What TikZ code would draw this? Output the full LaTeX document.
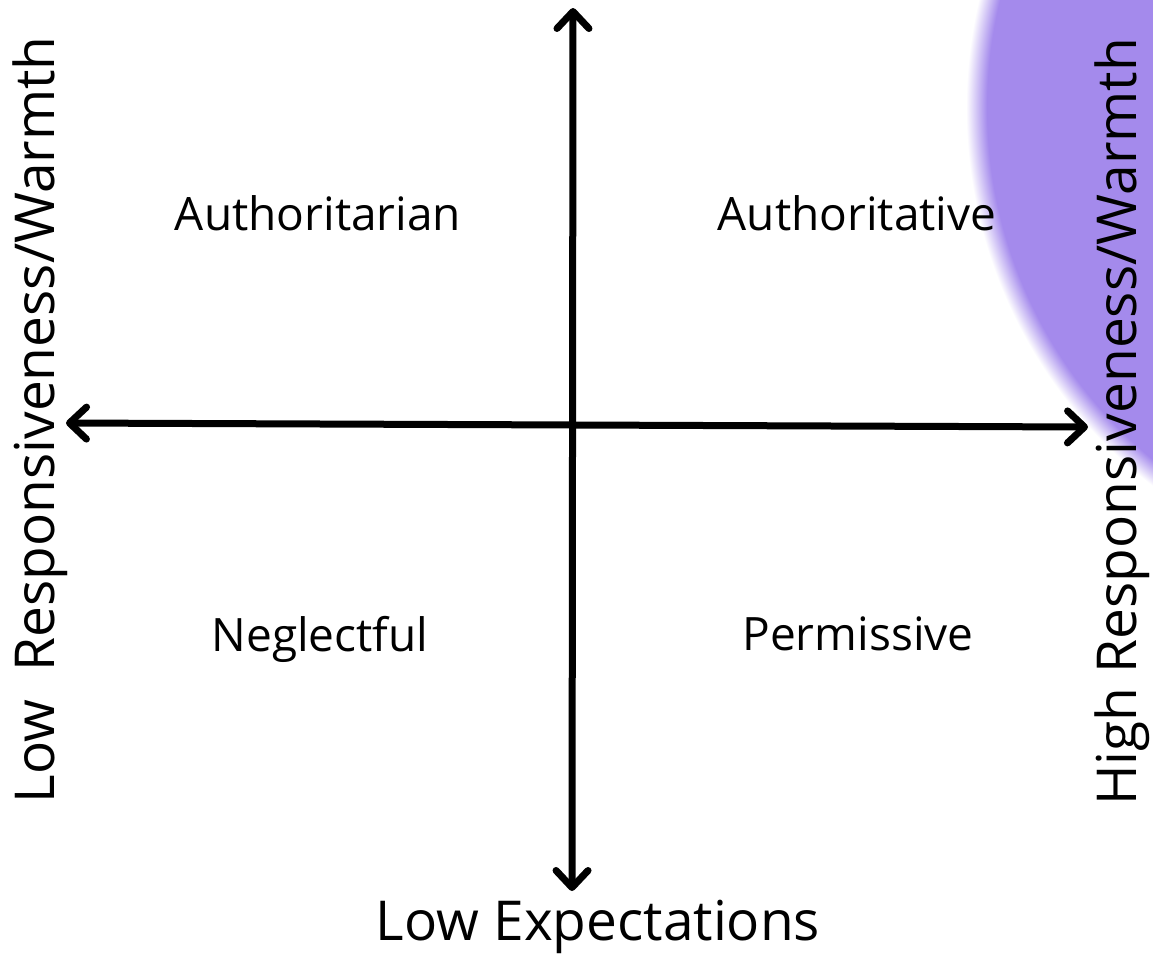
\documentclass[tikz,border=0pt]{standalone}
\usepackage{fontspec}
\setmainfont{Open Sans}
\usetikzlibrary{arrows.meta}
\definecolor{blobpurple}{RGB}{164,138,236}
\pgfdeclareradialshading{blobshade}{\pgfpoint{0bp}{0bp}}{color(0bp)=(blobpurple); color(23.9bp)=(blobpurple); color(25bp)=(white); color(50bp)=(white)}
\tikzset{
  axis/.style={line width=7pt, line cap=round,
    {Straight Barb[length=17pt,width=32pt,round]}-{Straight Barb[length=17pt,width=32pt,round]}},
  quad/.style={font=\fontsize{46}{55}\selectfont, anchor=base},
  axlabel/.style={font=\fontsize{55}{66}\selectfont, anchor=base},
}
\begin{document}
\begin{tikzpicture}[x=1pt,y=-1pt]
\useasboundingbox (0,0) rectangle (1153,953);
\fill[white] (0,0) rectangle (1153,953);
\begin{scope}
\clip (0,0) rectangle (1153,953);
\shade[shading=blobshade] (1442,108) circle[radius=476];
\end{scope}
\coordinate (top) at (573,8);
\coordinate (bottom) at (572,891);
\coordinate (left) at (66,423);
\coordinate (right) at (1088,427);
\draw[axis] (top) -- (bottom);
\draw[axis] (left) -- (right);
\node[quad] (authoritarian) at (318,230) {Authoritarian};
\node[quad] (authoritative) at (857,230) {Authoritative};
\node[quad] (neglectful) at (320,651) {Neglectful};
\node[quad] (permissive) at (858,650) {Permissive};
\node[axlabel] (lowexp) at (598,940) {Low Expectations};
\node[axlabel, rotate=90] (lowresp) at (54,420) {Low\ \ Responsiveness/Warmth};
\node[axlabel, rotate=90] (highresp) at (1136,422) {High Responsiveness/Warmth};
\end{tikzpicture}
\end{document}
